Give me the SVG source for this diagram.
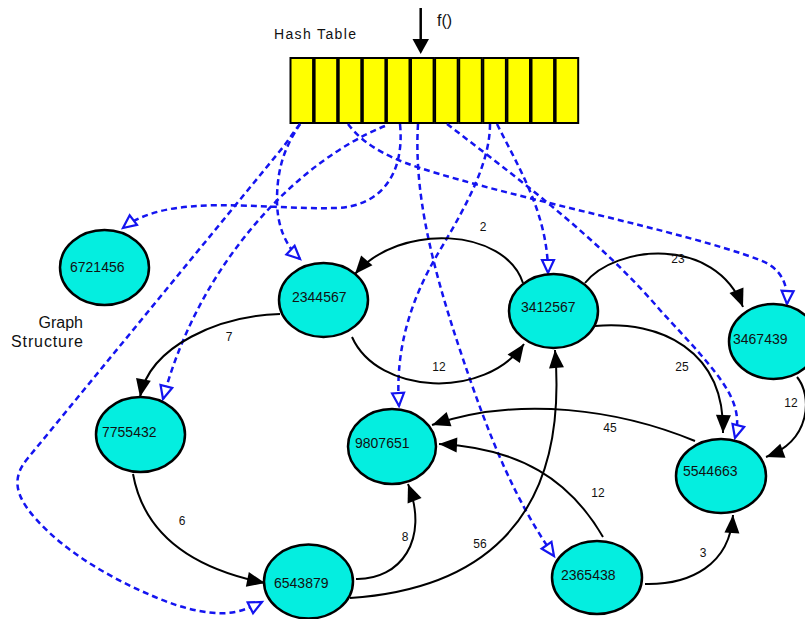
<svg xmlns="http://www.w3.org/2000/svg" width="805" height="619" viewBox="0 0 805 619">
<defs>
<style>
.cell{fill:#ffff00;stroke:#000;stroke-width:2}
.node{fill:#04eee0;stroke:#000;stroke-width:2.5}
.nt{font-family:"Liberation Sans",Arial,sans-serif;font-size:14px;fill:#111}
.el{font-family:"Liberation Sans",Arial,sans-serif;font-size:12px;fill:#111;text-anchor:middle}
.lbl{font-family:"Liberation Sans",Arial,sans-serif;fill:#111}
.edge{fill:none;stroke:#000;stroke-width:2;marker-end:url(#ah)}
.ptr{fill:none;stroke:#1414f0;stroke-width:2.5;stroke-dasharray:6,4;marker-end:url(#ho)}
</style>
<marker id="ah" markerUnits="userSpaceOnUse" viewBox="0 0 20 16" markerWidth="20" markerHeight="16" refX="18" refY="8" orient="auto" overflow="visible">
<path d="M0,0.5 L18,8 L0,15.5 z" fill="#000"/>
</marker>
<marker id="ho" markerUnits="userSpaceOnUse" viewBox="0 0 18 16" markerWidth="18" markerHeight="16" refX="15" refY="8" orient="auto" overflow="visible">
<path d="M2,2 L15,8 L2,14 z" fill="#fff" stroke="#1414f0" stroke-width="2.2"/>
</marker>
</defs>

<g id="hash-table">
<rect class="cell" x="290.5" y="58" width="22.6" height="65"/>
<rect class="cell" x="314.6" y="58" width="22.6" height="65"/>
<rect class="cell" x="338.7" y="58" width="22.6" height="65"/>
<rect class="cell" x="362.8" y="58" width="22.6" height="65"/>
<rect class="cell" x="386.9" y="58" width="22.6" height="65"/>
<rect class="cell" x="411.0" y="58" width="22.6" height="65"/>
<rect class="cell" x="435.1" y="58" width="22.6" height="65"/>
<rect class="cell" x="459.2" y="58" width="22.6" height="65"/>
<rect class="cell" x="483.3" y="58" width="22.6" height="65"/>
<rect class="cell" x="507.4" y="58" width="22.6" height="65"/>
<rect class="cell" x="531.5" y="58" width="22.6" height="65"/>
<rect class="cell" x="555.6" y="58" width="22.6" height="65"/>
<text class="lbl" x="274" y="39" font-size="14" textLength="82" lengthAdjust="spacing">Hash Table</text>
</g>

<g id="hash-input">
<line x1="420.7" y1="8" x2="420.7" y2="41" stroke="#000" stroke-width="2.5"/>
<path d="M412.5,39 L429,39 L420.7,54 z" fill="#000"/>
<text class="lbl" x="437" y="25.5" font-size="16">f()</text>
</g>

<g id="graph-label">
<text class="lbl" x="83" y="328" font-size="16" text-anchor="end">Graph</text>
<text class="lbl" x="83" y="347" font-size="16" text-anchor="end" textLength="72" lengthAdjust="spacing">Structure</text>
</g>

<g id="pointers">
<path class="ptr" d="M400,124 C405,175 380,207 335,208 C260,210 170,192 123,228"/>
<path class="ptr" d="M300,124 C290,140 277,160 277,200 C277,225 285,245 300,259"/>
<path class="ptr" d="M300,124 C293,133 289,139 284,146 L28,458 C12,477 14,494 35,518 C65,552 110,578 155,597 C185,610 215,616 235,612 C245,610 254,606 262,602"/>
<path class="ptr" d="M385,126 C300,160 200,260 163,399"/>
<path class="ptr" d="M490,124 C490,160 470,200 440,250 C410,300 395,350 399,406"/>
<path class="ptr" d="M418,124 C414,190 430,260 460,350 C490,440 515,500 554,556"/>
<path class="ptr" d="M447,124 C520,180 600,240 660,310 C720,375 745,400 735,438"/>
<path class="ptr" d="M497,124 C520,170 548,215 548,273"/>
<path class="ptr" d="M348,124 C360,140 380,155 420,168 C520,200 680,230 760,260 C780,268 788,282 787,304"/>
</g>

<g id="edges">
<path class="edge" d="M523,283 C505,228 400,222 355,274"/>
<path class="edge" d="M585,283 C615,245 715,235 743,307"/>
<path class="edge" d="M280,314 C220,316 150,345 140,397"/>
<path class="edge" d="M352,337 C378,395 485,400 524,344"/>
<path class="edge" d="M595,326 C660,320 725,350 723,433"/>
<path class="edge" d="M797,377 C812,395 812,440 766,457"/>
<path class="edge" d="M695,441 C620,410 520,395 432,425"/>
<path class="edge" d="M603,537 C570,480 520,448 439,444"/>
<path class="edge" d="M133,474 C145,540 200,570 265,583"/>
<path class="edge" d="M356,579 C400,580 430,540 408,484"/>
<path class="edge" d="M350,598 C470,590 570,530 555,350"/>
<path class="edge" d="M645,584 C690,585 730,565 733,515"/>
<text class="el" x="483" y="231">2</text>
<text class="el" x="678" y="263">23</text>
<text class="el" x="229" y="341">7</text>
<text class="el" x="439" y="371">12</text>
<text class="el" x="682" y="371">25</text>
<text class="el" x="791" y="407">12</text>
<text class="el" x="610" y="432">45</text>
<text class="el" x="598" y="497">12</text>
<text class="el" x="182" y="525">6</text>
<text class="el" x="405" y="541">8</text>
<text class="el" x="480" y="548">56</text>
<text class="el" x="703" y="557">3</text>
</g>

<g id="n6721456"><ellipse class="node" cx="104.5" cy="267.5" rx="44.5" ry="37.5"/><text class="nt" x="70" y="272">6721456</text></g>
<g id="n2344567"><ellipse class="node" cx="323.5" cy="300" rx="44.5" ry="37"/><text class="nt" x="292" y="302">2344567</text></g>
<g id="n3412567"><ellipse class="node" cx="553.5" cy="311" rx="44.5" ry="37"/><text class="nt" x="521" y="312">3412567</text></g>
<g id="n3467439"><ellipse class="node" cx="773.5" cy="341.5" rx="44.5" ry="37.5"/><text class="nt" x="733" y="344">3467439</text></g>
<g id="n7755432"><ellipse class="node" cx="140.5" cy="434.5" rx="44.5" ry="37.5"/><text class="nt" x="102" y="437">7755432</text></g>
<g id="n9807651"><ellipse class="node" cx="392" cy="446.5" rx="44" ry="37.5"/><text class="nt" x="355" y="448">9807651</text></g>
<g id="n6543879"><ellipse class="node" cx="308.5" cy="581.5" rx="44.5" ry="37"/><text class="nt" x="274" y="588">6543879</text></g>
<g id="n5544663"><ellipse class="node" cx="721" cy="476" rx="45" ry="37"/><text class="nt" x="683" y="476">5544663</text></g>
<g id="n2365438"><ellipse class="node" cx="597" cy="577.5" rx="45" ry="36.5"/><text class="nt" x="561" y="580">2365438</text></g>
</svg>
